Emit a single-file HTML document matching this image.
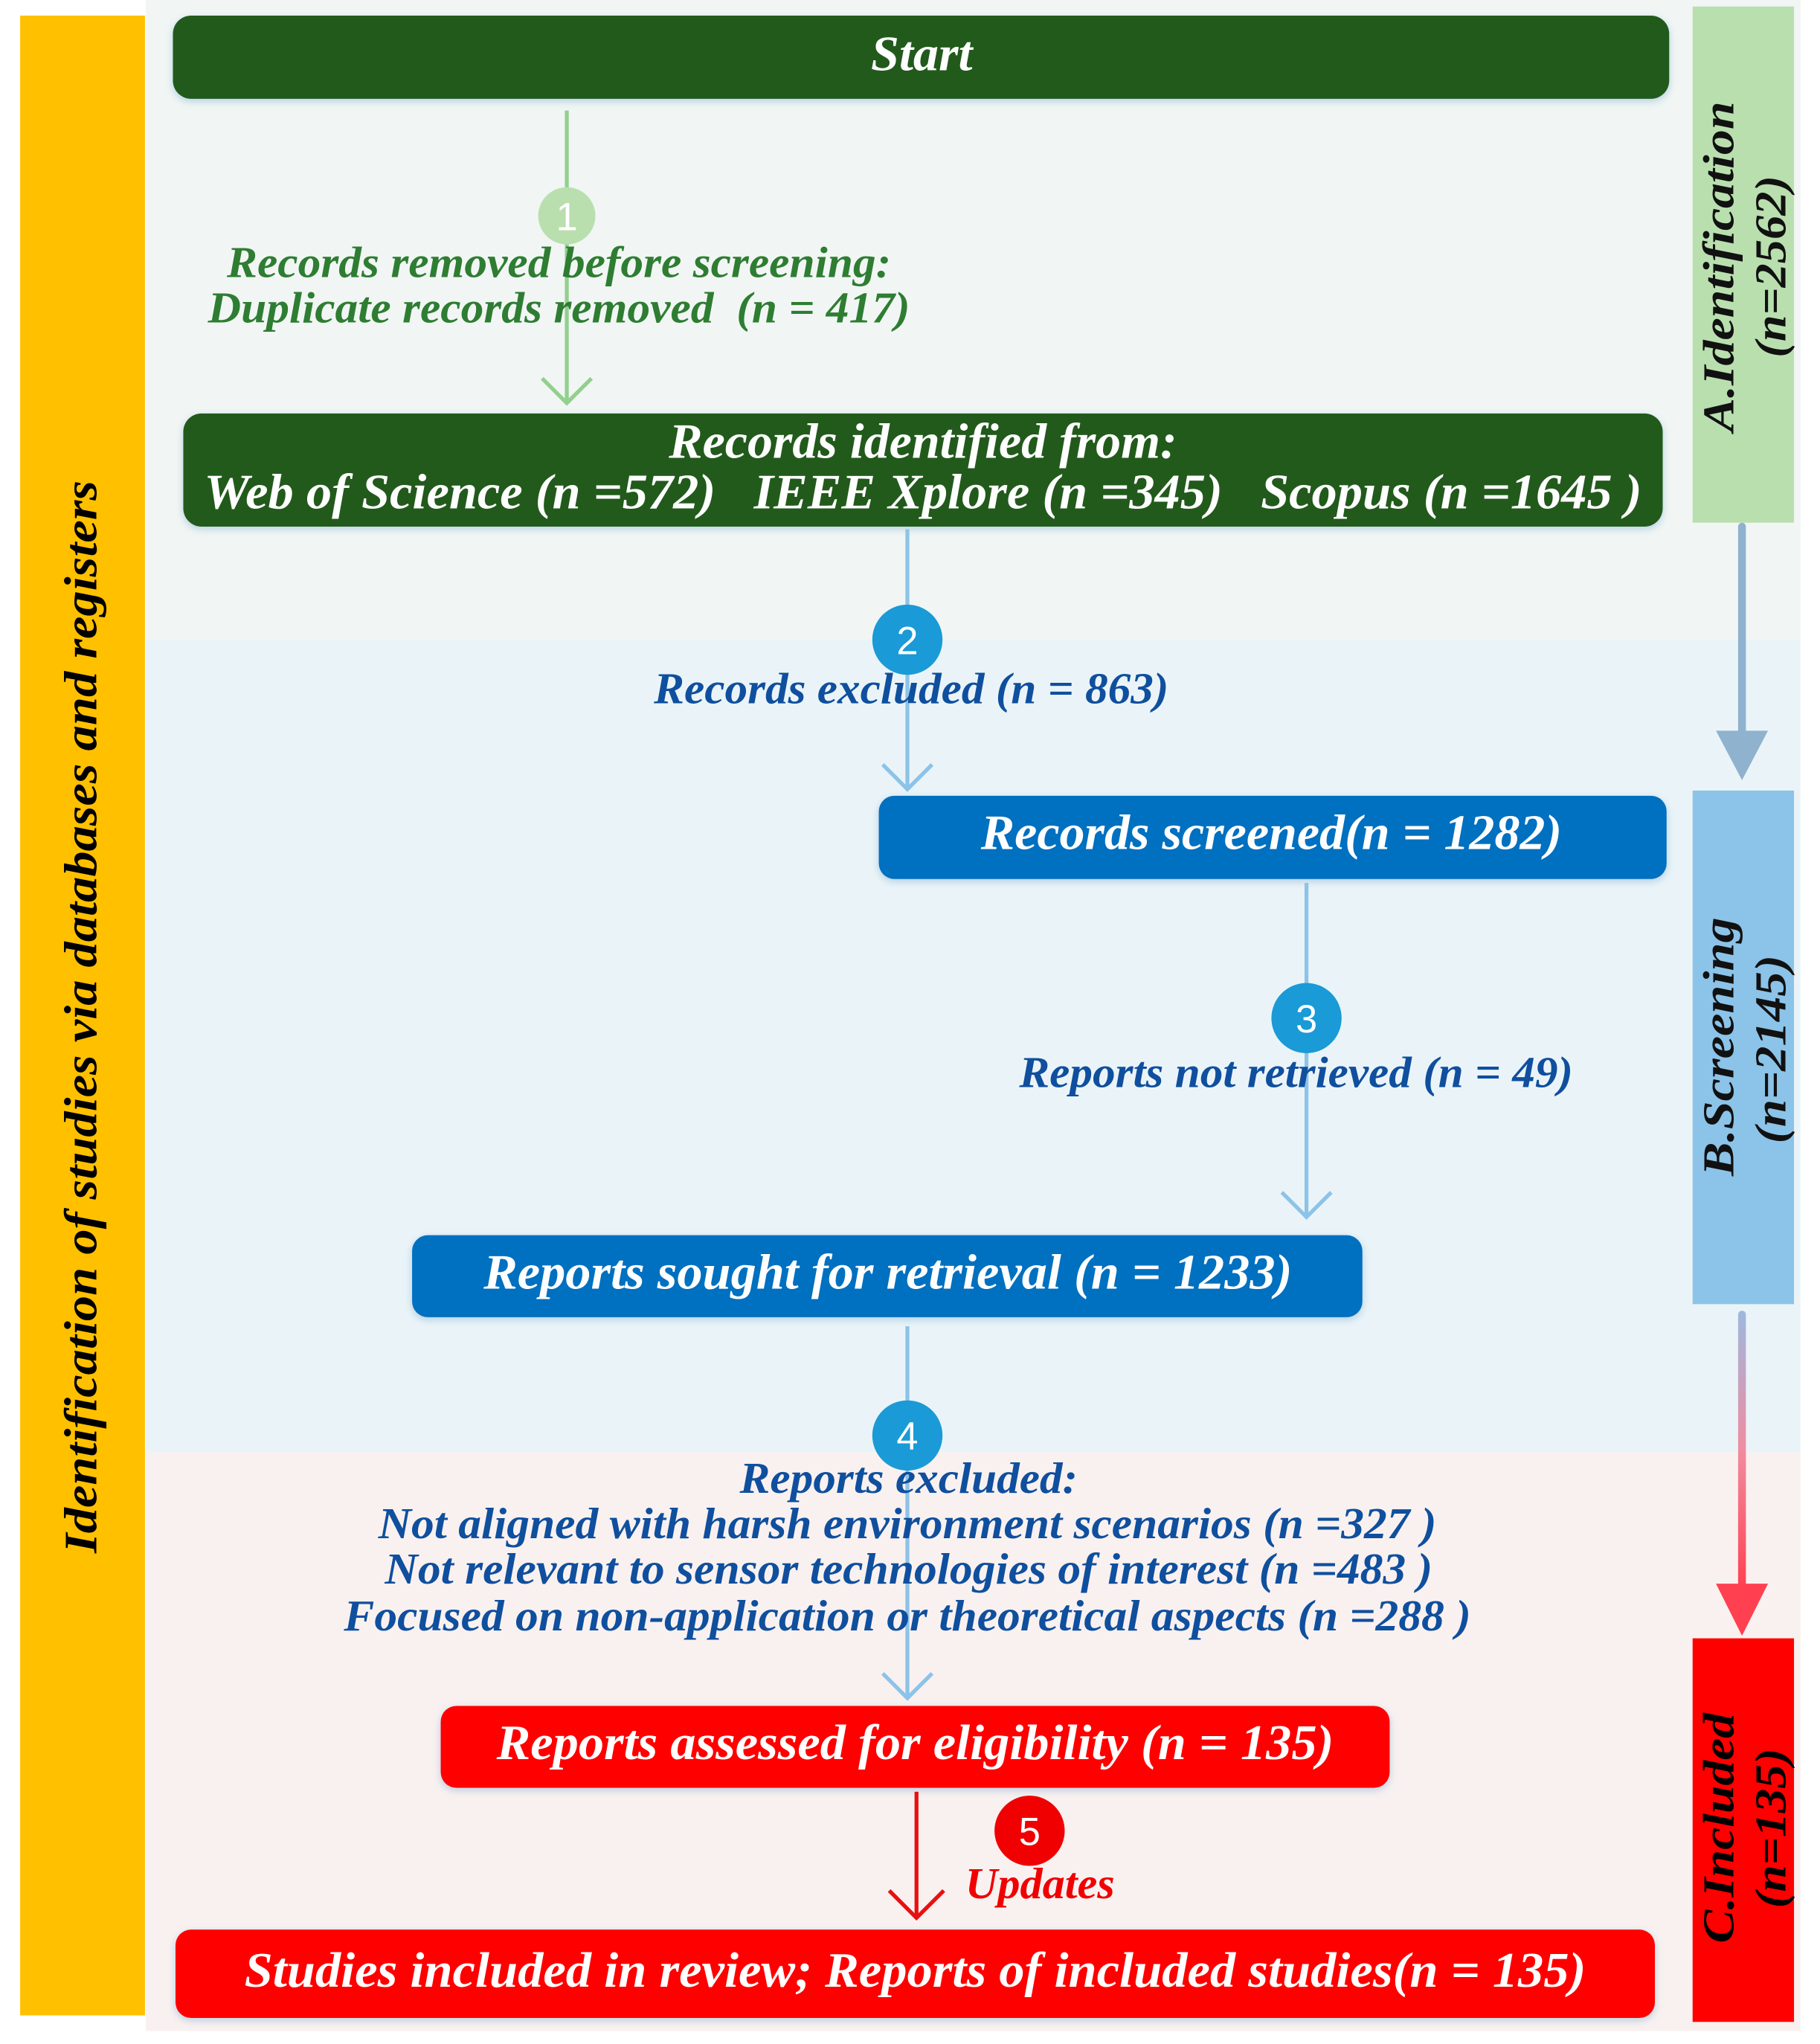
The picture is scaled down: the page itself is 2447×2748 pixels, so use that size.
<!DOCTYPE html>
<html><head><meta charset="utf-8">
<style>
html,body{margin:0;padding:0;background:#fff;}
svg{display:block;}
text{font-family:"Liberation Serif",serif;font-weight:bold;font-style:italic;white-space:pre;}
.n{font-family:"Liberation Sans","DejaVu Sans",sans-serif;font-style:normal;font-weight:normal;fill:#fff;font-size:30px;}
</style></head>
<body>
<svg width="2447" height="2748" viewBox="0 0 1400 1572" preserveAspectRatio="none" xmlns="http://www.w3.org/2000/svg">
<defs>
<linearGradient id="g1" x1="0" y1="0" x2="0" y2="1">
<stop offset="0" stop-color="#9DB9DF"/><stop offset="0.5" stop-color="#F08CA0"/><stop offset="1" stop-color="#FF4050"/>
</linearGradient>
<filter id="sh" x="-5%" y="-30%" width="110%" height="160%"><feDropShadow dx="0" dy="2" stdDeviation="3" flood-color="#6aa0c8" flood-opacity="0.45"/></filter>
</defs>
<rect width="1400" height="1572" fill="#fff"/>
<rect x="112" y="0" width="1273" height="492" fill="#F1F6F4"/>
<rect x="112" y="492" width="1273" height="625" fill="#EAF4F8"/>
<rect x="112" y="1117" width="1273" height="445" fill="#F9F1F0"/>
<rect x="15.5" y="12" width="96" height="1538" fill="#FFC000"/>
<text transform="translate(62,782) rotate(-90)" text-anchor="middle" dominant-baseline="central" font-size="36" fill="#000" textLength="825" lengthAdjust="spacingAndGlyphs">Identification of studies via databases and registers</text>
<rect x="1302" y="5" width="78" height="397" fill="#B9DFAF"/>
<rect x="1302" y="608" width="78" height="395" fill="#8CC3E8"/>
<rect x="1302" y="1260" width="78" height="295" fill="#FF0000"/>
<text transform="translate(1322,205) rotate(-90)" text-anchor="middle" dominant-baseline="central" font-size="34" fill="#111" textLength="254" lengthAdjust="spacingAndGlyphs">A.Identification</text>
<text transform="translate(1362,205) rotate(-90)" text-anchor="middle" dominant-baseline="central" font-size="34" fill="#111" textLength="140" lengthAdjust="spacingAndGlyphs">(n=2562)</text>
<text transform="translate(1322,805) rotate(-90)" text-anchor="middle" dominant-baseline="central" font-size="34" fill="#111" textLength="199" lengthAdjust="spacingAndGlyphs">B.Screening</text>
<text transform="translate(1362,807) rotate(-90)" text-anchor="middle" dominant-baseline="central" font-size="34" fill="#111" textLength="145" lengthAdjust="spacingAndGlyphs">(n=2145)</text>
<text transform="translate(1322,1406) rotate(-90)" text-anchor="middle" dominant-baseline="central" font-size="34" fill="#000" textLength="177" lengthAdjust="spacingAndGlyphs">C.Included</text>
<text transform="translate(1362,1406) rotate(-90)" text-anchor="middle" dominant-baseline="central" font-size="34" fill="#000" textLength="123" lengthAdjust="spacingAndGlyphs">(n=135)</text>
<line x1="1340" y1="405" x2="1340" y2="568" stroke="#8FB2CE" stroke-width="6" stroke-linecap="round"/>
<polygon points="1320,562 1360,562 1340,600" fill="#8FB2CE"/>
<rect x="1337" y="1008" width="6" height="215" rx="3" fill="url(#g1)"/>
<polygon points="1320,1218 1360,1218 1340,1258" fill="#FF4050"/>
<rect x="133" y="12" width="1151" height="64" rx="14" fill="#215A1E" filter="url(#sh)"/>
<text x="709" y="54" text-anchor="middle" font-size="38" fill="#fff" textLength="78" lengthAdjust="spacingAndGlyphs">Start</text>
<rect x="141" y="318" width="1138" height="87" rx="14" fill="#215A1E" filter="url(#sh)"/>
<text x="710" y="352" text-anchor="middle" font-size="38" fill="#fff" textLength="391" lengthAdjust="spacingAndGlyphs">Records identified from:</text>
<text x="710" y="391" text-anchor="middle" font-size="38" fill="#fff" textLength="1106" lengthAdjust="spacingAndGlyphs">Web of Science (n =572)&#160;&#160;&#160;IEEE Xplore (n =345)&#160;&#160;&#160;Scopus (n =1645 )</text>
<rect x="676" y="612" width="606" height="64" rx="12" fill="#0070C0" filter="url(#sh)"/>
<text x="978" y="653" text-anchor="middle" font-size="38" fill="#fff" textLength="447" lengthAdjust="spacingAndGlyphs">Records screened(n = 1282)</text>
<rect x="317" y="950" width="731" height="63" rx="12" fill="#0070C0" filter="url(#sh)"/>
<text x="683" y="991" text-anchor="middle" font-size="38" fill="#fff" textLength="622" lengthAdjust="spacingAndGlyphs">Reports sought for retrieval (n = 1233)</text>
<rect x="339" y="1312" width="730" height="63" rx="12" fill="#FF0000" filter="url(#sh)"/>
<text x="704" y="1353" text-anchor="middle" font-size="38" fill="#fff" textLength="644" lengthAdjust="spacingAndGlyphs">Reports assessed for eligibility (n = 135)</text>
<rect x="135" y="1484" width="1138" height="68" rx="12" fill="#FF0000" filter="url(#sh)"/>
<text x="704" y="1528" text-anchor="middle" font-size="38" fill="#fff" textLength="1032" lengthAdjust="spacingAndGlyphs">Studies included in review; Reports of included studies(n = 135)</text>
<line x1="436" y1="85" x2="436" y2="310" stroke="#93CF8E" stroke-width="3"/>
<polyline points="417,291 436,310 455,291" fill="none" stroke="#93CF8E" stroke-width="3"/>
<circle cx="436" cy="166" r="22" fill="#B9DFAF"/>
<text x="436" y="177" text-anchor="middle" class="n">1</text>
<text x="430" y="213" text-anchor="middle" font-size="34" fill="#2E7D32" textLength="511" lengthAdjust="spacingAndGlyphs">Records removed before screening:</text>
<text x="430" y="248" text-anchor="middle" font-size="34" fill="#2E7D32" textLength="540" lengthAdjust="spacingAndGlyphs">Duplicate records removed&#160;&#160;(n = 417)</text>
<line x1="698" y1="407" x2="698" y2="606" stroke="#8CC3E8" stroke-width="3"/>
<polyline points="679,588 698,607 717,588" fill="none" stroke="#8CC3E8" stroke-width="3"/>
<circle cx="698" cy="492" r="27" fill="#1A9AD6"/>
<text x="698" y="503" text-anchor="middle" class="n">2</text>
<text x="701" y="541" text-anchor="middle" font-size="34" fill="#0F4F9E" textLength="396" lengthAdjust="spacingAndGlyphs">Records excluded (n = 863)</text>
<line x1="1005" y1="679" x2="1005" y2="936" stroke="#8CC3E8" stroke-width="3"/>
<polyline points="986,917 1005,936 1024,917" fill="none" stroke="#8CC3E8" stroke-width="3"/>
<circle cx="1005" cy="783" r="27" fill="#1A9AD6"/>
<text x="1005" y="794" text-anchor="middle" class="n">3</text>
<text x="997" y="836" text-anchor="middle" font-size="34" fill="#0F4F9E" textLength="426" lengthAdjust="spacingAndGlyphs">Reports not retrieved (n = 49)</text>
<line x1="698" y1="1020" x2="698" y2="1306" stroke="#8CC3E8" stroke-width="3"/>
<polyline points="679,1287 698,1306 717,1287" fill="none" stroke="#8CC3E8" stroke-width="3"/>
<circle cx="698" cy="1104" r="27" fill="#1A9AD6"/>
<text x="698" y="1115" text-anchor="middle" class="n">4</text>
<text x="699" y="1148" text-anchor="middle" font-size="34" fill="#0F4F9E" textLength="260" lengthAdjust="spacingAndGlyphs">Reports excluded:</text>
<text x="698" y="1183" text-anchor="middle" font-size="34" fill="#0F4F9E" textLength="814" lengthAdjust="spacingAndGlyphs">Not aligned with harsh environment scenarios (n =327 )</text>
<text x="699" y="1218" text-anchor="middle" font-size="34" fill="#0F4F9E" textLength="806" lengthAdjust="spacingAndGlyphs">Not relevant to sensor technologies of interest (n =483 )</text>
<text x="698" y="1254" text-anchor="middle" font-size="34" fill="#0F4F9E" textLength="867" lengthAdjust="spacingAndGlyphs">Focused on non-application or theoretical aspects (n =288 )</text>
<line x1="705" y1="1378" x2="705" y2="1475" stroke="#E81010" stroke-width="3"/>
<polyline points="684,1454 705,1475 726,1454" fill="none" stroke="#E81010" stroke-width="3"/>
<circle cx="792" cy="1408" r="27" fill="#F00000"/>
<text x="792" y="1419" text-anchor="middle" class="n">5</text>
<text x="800" y="1460" text-anchor="middle" font-size="34" fill="#F00000" textLength="115" lengthAdjust="spacingAndGlyphs">Updates</text>
</svg>
</body></html>
